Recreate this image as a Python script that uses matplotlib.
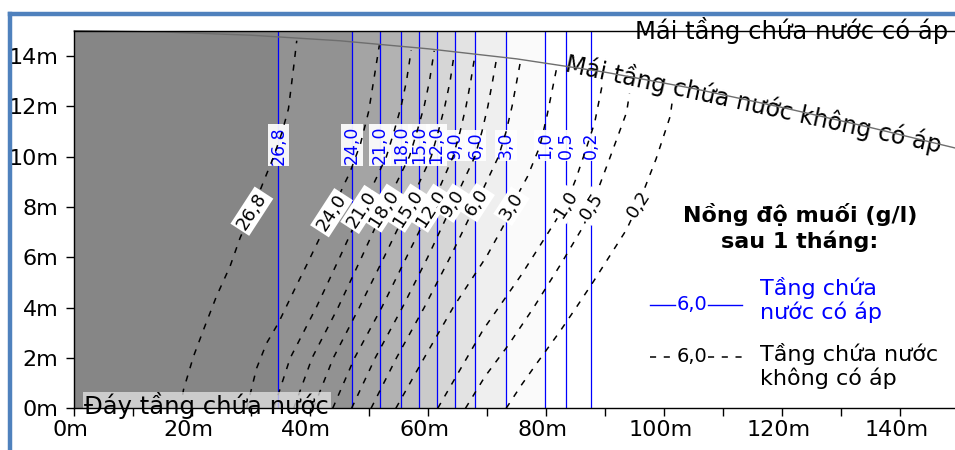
import matplotlib
matplotlib.use('Agg')
import matplotlib.pyplot as plt
import matplotlib.transforms as mtransforms
from matplotlib.lines import Line2D
from matplotlib.patches import Rectangle
from matplotlib.ticker import MultipleLocator

# ── Salinity isolines after 1 month (g/l) ─────────────────────────────────────

level_labels = ['26,8', '24,0', '21,0', '18,0', '15,0', '12,0',
                '9,0', '6,0', '3,0', '1,0', '0,5', '0,2']

# confined aquifer: isolines are vertical, x position in m
confined_x = [34.6, 47.1, 51.8, 55.4, 58.4, 61.4, 64.5, 68.0, 73.2, 79.8, 83.3, 87.5]

# grey shade of each band, left of the first isoline to right of the last
band_greys = ['#868686', '#929292', '#a4a4a4', '#b2b2b2', '#bebebe', '#cacaca',
              '#d6d6d6', '#e3e3e3', '#efefef', '#fafafa', '#ffffff', '#ffffff',
              '#ffffff']

# unconfined aquifer: points (x, y) along each dashed isoline
unconf_x = [
    [18.0, 18.5, 20.2, 21.9, 24.1, 26.4, 28.1, 30.1, 32.0, 33.8, 35.2, 36.3, 37.2, 37.7],
    [29.2, 29.7, 30.9, 32.6, 34.6, 37.7, 39.4, 41.6, 43.6, 45.6, 46.7, 48.5, 49.9, 50.7, 51.7],
    [33.8, 36.6, 41.0, 45.0, 48.7, 52.9, 54.2, 55.4, 56.3, 57.1],
    [37.2, 40.3, 44.7, 48.7, 52.5, 56.8, 58.1, 59.3, 60.2, 61.0],
    [40.5, 43.9, 48.3, 52.5, 56.5, 60.5, 61.7, 62.8, 63.7, 64.4],
    [43.8, 47.5, 52.1, 56.3, 60.4, 64.2, 65.4, 66.4, 67.2, 67.9],
    [47.0, 51.0, 55.6, 59.9, 64.2, 67.9, 69.1, 70.1, 70.9, 71.6],
    [50.3, 54.6, 59.3, 63.7, 68.2, 71.9, 73.2, 74.2, 75.0, 75.7],
    [54.5, 59.3, 64.2, 67.1, 69.9, 72.7, 74.1, 76.8, 78.9, 80.1, 81.9],
    [61.6, 69.3, 75.8, 81.2, 83.3, 85.0, 86.6, 88.2, 89.4],
    [66.3, 69.6, 73.6, 77.8, 82.6, 86.3, 87.7, 90.7, 93.6, 94.1],
    [73.2, 75.8, 78.4, 82.3, 85.2, 88.0, 93.6, 95.6, 98.6, 101.0, 101.4],
]
unconf_y = [
    [0, 0.73, 2.06, 3.12, 4.45, 5.64, 6.77, 7.83, 8.96, 10.0, 10.96, 11.9, 13.6, 14.6],
    [0, 0.46, 1.59, 2.59, 3.39, 4.9, 5.7, 6.77, 7.77, 8.83, 9.36, 10.5, 11.8, 12.96, 14.42],
    [0, 2, 4, 6, 7.9, 10, 11, 12, 13, 14.22],
    [0, 2, 4, 6, 7.95, 10, 11, 12, 13, 14.2],
    [0, 2, 4, 6, 7.95, 10, 11, 12, 13, 14.09],
    [0, 2, 4, 6, 7.95, 10, 11, 12, 13, 14.02],
    [0, 2, 4, 6, 8.15, 10, 11, 12, 13, 13.93],
    [0, 2, 4, 6, 8.17, 10, 11, 12, 13, 13.88],
    [0, 2, 4, 5.04, 6.04, 7.23, 8.03, 9.2, 10.4, 11.6, 13.68],
    [0, 3.12, 5.31, 7.3, 8.1, 9.1, 10.2, 11.35, 12.75],
    [0, 1.26, 2.52, 3.98, 5.78, 7.24, 8.03, 9.9, 11.75, 12.5],
    [0, 0.93, 1.79, 3.05, 4.05, 5.04, 7.1, 8.1, 9.9, 11.6, 12.28],
]
# index of the point carrying the label on each dashed isoline
label_idx = [7, 8, 4, 4, 4, 4, 4, 4, 6, 4, 6, 7]

# roof of the unconfined aquifer
roof_x = [0, 15, 30, 45, 60, 75, 90, 105, 120, 135, 150]
roof_y = [15.0, 14.95, 14.82, 14.6, 14.28, 13.88, 13.35, 12.7, 11.95, 11.15, 10.3]

x_ticks = [0, 20, 40, 60, 80, 100, 120, 140]
y_ticks = [0, 2, 4, 6, 8, 10, 12, 14]

BLUE = '#0000ff'

plt.rcParams['font.family'] = ['DejaVu Sans']

fig = plt.figure(figsize=(9.55, 4.5), dpi=100)
ax = fig.add_axes([0.0778, 0.0927, 0.9267, 0.8391])
ax.set_xlim(0, 150)
ax.set_ylim(0, 15)

# grey bands of the confined aquifer
edges = [0] + confined_x + [150]
for i in range(len(edges) - 1):
    ax.axvspan(edges[i], edges[i + 1], color=band_greys[i], lw=0, zorder=0)

# blue vertical isolines + labels
for x, lab in zip(confined_x, level_labels):
    ax.axvline(x, color=BLUE, lw=0.9, zorder=2)
    ax.text(x, 10.45, lab, rotation=90, ha='center', va='center',
            color=BLUE, fontsize=12.5, zorder=3,
            bbox=dict(boxstyle='square,pad=0.1', fc='white', ec='none',
                      alpha=0.92))

# dashed isolines of the unconfined aquifer
for xs, ys in zip(unconf_x, unconf_y):
    ax.plot(xs, ys, color='black', lw=1.1, dashes=(4, 5), zorder=4)

for xs, ys, lab, k in zip(unconf_x, unconf_y, level_labels, label_idx):
    ax.text(xs[k], ys[k], lab, rotation=57,
            rotation_mode='anchor', ha='center', va='center',
            fontsize=13, zorder=6,
            bbox=dict(boxstyle='square,pad=0.12', fc='white', ec='none'))

# roof lines and their names
ax.plot(roof_x, roof_y, color='#6e6e6e', lw=1.0, zorder=7, clip_on=False)
ax.text(83.3, 13.72, 'Mái tầng chứa nước không có áp', rotation=-12.3,
        rotation_mode='anchor', ha='left', va='center', fontsize=17,
        zorder=6.5, clip_on=False)
ax.text(148.1, 15, 'Mái tầng chứa nước có áp', ha='right', va='center',
        fontsize=17.5, zorder=8, clip_on=False)

# aquifer bottom
ax.add_patch(Rectangle((1.5, 0), 42.0, 0.66, fc='#e4e4e4', ec='none',
                       alpha=0.75, zorder=5))
ax.text(1.6, 0.12, 'Đáy tầng chứa nước', ha='left', va='center',
        fontsize=17.5, zorder=8, clip_on=False)

# axes styling
for side in ['left', 'bottom', 'top']:
    ax.spines[side].set_color('black')
    ax.spines[side].set_linewidth(1.0)
    ax.spines[side].set_zorder(9)
ax.spines['right'].set_visible(False)

ax.set_xticks(x_ticks)
ax.set_xticklabels([f'{v}m' for v in x_ticks])
ax.xaxis.set_minor_locator(MultipleLocator(10))
ax.set_yticks(y_ticks)
ax.set_yticklabels([f'{v}m' for v in y_ticks])
ax.tick_params(which='both', direction='out', length=5.5, width=1.0,
               labelsize=16)
ax.tick_params(axis='y', pad=6)
ax.tick_params(axis='x', pad=3)
shift = mtransforms.ScaledTranslation(-4 / 100, 0, fig.dpi_scale_trans)
for lbl in ax.get_xticklabels():
    lbl.set_transform(lbl.get_transform() + shift)

# legend block
tr = ax.transAxes
ax.text(0.820, 0.479, 'Nồng độ muối (g/l)\nsau 1 tháng:', transform=tr,
        ha='center', va='center', fontsize=16, fontweight='bold',
        linespacing=1.25)

ax.add_line(Line2D([0.6505, 0.679], [0.2736, 0.2736], transform=tr,
                   color=BLUE, lw=1.0))
ax.add_line(Line2D([0.7165, 0.7545], [0.2736, 0.2736], transform=tr,
                   color=BLUE, lw=1.0))
ax.text(0.6975, 0.2736, '6,0', transform=tr, ha='center', va='center',
        color=BLUE, fontsize=14)
ax.text(0.775, 0.287, 'Tầng chứa\nnước có áp', transform=tr, ha='left',
        va='center', color=BLUE, fontsize=16, linespacing=1.15)

ax.add_line(Line2D([0.6505, 0.679], [0.136, 0.136], transform=tr,
                   color='black', lw=1.1, dashes=(4, 5)))
ax.add_line(Line2D([0.7165, 0.7545], [0.136, 0.136], transform=tr,
                   color='black', lw=1.1, dashes=(4, 5)))
ax.text(0.6975, 0.136, '6,0', transform=tr, ha='center', va='center',
        color='black', fontsize=14)
ax.text(0.775, 0.113, 'Tầng chứa nước\nkhông có áp', transform=tr,
        ha='left', va='center', color='black', fontsize=16, linespacing=1.15)

# outer frame
frame_c = '#4f81bd'
fig.add_artist(Line2D([0.00995, 0.00995], [-0.1, 0.9678],
                      transform=fig.transFigure, color=frame_c, lw=3.2,
                      solid_capstyle='projecting'))
fig.add_artist(Line2D([0.00995, 1.1], [0.9678, 0.9678],
                      transform=fig.transFigure, color=frame_c, lw=3.2,
                      solid_capstyle='projecting'))

fig.savefig('out.png', dpi=100, facecolor='white')
